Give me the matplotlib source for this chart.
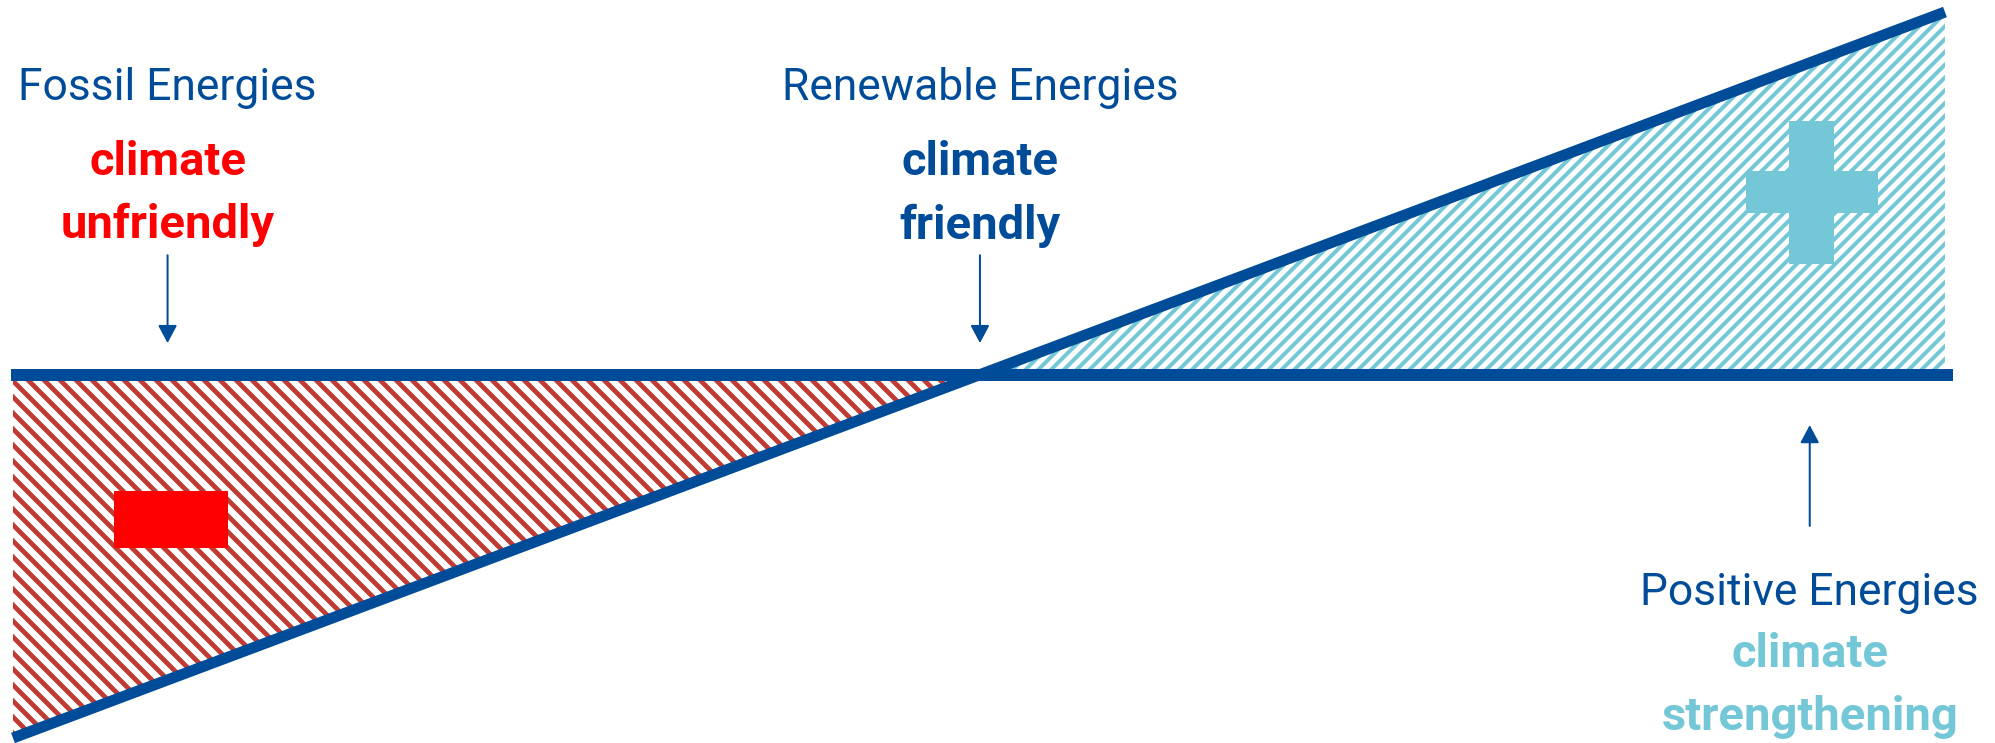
import matplotlib
matplotlib.use('Agg')
import matplotlib.pyplot as plt
from matplotlib.patches import Rectangle
from matplotlib import font_manager

# climate effect along the energy scale (0 = fossil, 100 = positive)
energy_x = [0, 100]
climate_effect = [-1, 1]
baseline_x = [-0.1, 100.4]

# where the three labels / arrows sit on the scale
label_x = [8.0, 50.05, 93.0]
titles = ['Fossil Energies', 'Renewable Energies', 'Positive Energies']
verdict_1 = ['climate', 'climate', 'climate']
verdict_2 = ['unfriendly', 'friendly', 'strengthening']

# minus / plus signs (centre on the scale)
minus_pos = (8.2, -0.397)
plus_pos = (93.1, 0.504)

BLUE = '#004c99'
RED = '#ff0000'
HATCH_RED = '#c23b33'
CYAN = '#74c7d6'

names = {f.name for f in font_manager.fontManager.ttflist}
font = 'Liberation Sans Narrow' if 'Liberation Sans Narrow' in names else 'Roboto'

# high dpi so the hatch spacing comes out like the reference
DPI = 192


def pt(px):
    return px * 72 / DPI


fig = plt.figure(figsize=(1995 / DPI, 743 / DPI), dpi=DPI)
ax = fig.add_axes([0, 0, 1, 1])
ax.set_xlim(-0.673, 102.59)
ax.set_ylim(-1.0138, 1.0331)
ax.axis('off')

# hatched areas
neg = [v <= 0 for v in climate_effect]
pos = [v >= 0 for v in climate_effect]
plt.rcParams['hatch.linewidth'] = pt(4.8)
red_fill = ax.fill_between(energy_x, climate_effect, 0, where=neg, interpolate=True,
                           facecolor='none', edgecolor=HATCH_RED, hatch='\\\\\\\\', linewidth=0)
if hasattr(red_fill, 'set_hatch_linewidth'):
    red_fill.set_hatch_linewidth(pt(4.8))
plt.rcParams['hatch.linewidth'] = pt(4.0)
cyan_fill = ax.fill_between(energy_x, climate_effect, 0, where=pos, interpolate=True,
                            facecolor='none', edgecolor=CYAN, hatch='/////', linewidth=0)
if hasattr(cyan_fill, 'set_hatch_linewidth'):
    cyan_fill.set_hatch_linewidth(pt(4.0))

# minus sign
mw, mh = 5.9, 0.157
ax.add_patch(Rectangle((minus_pos[0] - mw / 2, minus_pos[1] - mh / 2), mw, mh,
                       facecolor=RED, edgecolor='none', zorder=3))
# plus sign
vw, vh = 2.33, 0.394
hw, hh = 6.83, 0.116
ax.add_patch(Rectangle((plus_pos[0] - vw / 2, plus_pos[1] - vh / 2), vw, vh,
                       facecolor=CYAN, edgecolor='none', zorder=3))
ax.add_patch(Rectangle((plus_pos[0] - hw / 2, plus_pos[1] - hh / 2), hw, hh,
                       facecolor=CYAN, edgecolor='none', zorder=3))

# the two lines
ax.plot(baseline_x, [0, 0], color=BLUE, lw=pt(12), solid_capstyle='butt', zorder=4)
ax.plot(energy_x, climate_effect, color=BLUE, lw=pt(11), solid_capstyle='butt', zorder=5)

# arrows
arrow_props = dict(arrowstyle='-|>,head_length=0.75,head_width=0.4', mutation_scale=pt(20),
                   color=BLUE, lw=pt(2), shrinkA=0, shrinkB=0)
ax.annotate('', xy=(label_x[0], 0.088), xytext=(label_x[0], 0.33), arrowprops=arrow_props)
ax.annotate('', xy=(label_x[1], 0.088), xytext=(label_x[1], 0.33), arrowprops=arrow_props)
ax.annotate('', xy=(label_x[2], -0.138), xytext=(label_x[2], -0.416), arrowprops=arrow_props)

# texts
title_y = [0.7576, 0.7576, -0.634]
v1_y = [0.551, 0.551, -0.804]
v2_y = [0.377, 0.375, -0.978]
v_colors = [RED, BLUE, CYAN]

title_txt, v_txt = [], []
for i in range(3):
    title_txt.append(ax.text(label_x[i], title_y[i], titles[i], ha='center', va='baseline',
                             color=BLUE, fontsize=20, family=font))
    v_txt.append(ax.text(label_x[i], v1_y[i], verdict_1[i], ha='center', va='baseline',
                         color=v_colors[i], fontsize=20, family=font, fontweight='bold'))
    v_txt.append(ax.text(label_x[i], v2_y[i], verdict_2[i], ha='center', va='baseline',
                         color=v_colors[i], fontsize=20, family=font, fontweight='bold'))


def fit_size(texts, widths):
    r = fig.canvas.get_renderer()
    have = sum(t.get_window_extent(r).width for t in texts)
    k = sum(widths) / have
    for t in texts:
        t.set_fontsize(t.get_fontsize() * k)


fit_size(title_txt, [295, 402, 339])
fit_size(v_txt, [157, 215, 157, 163, 157, 296])

fig.savefig('out.png', dpi=DPI)
